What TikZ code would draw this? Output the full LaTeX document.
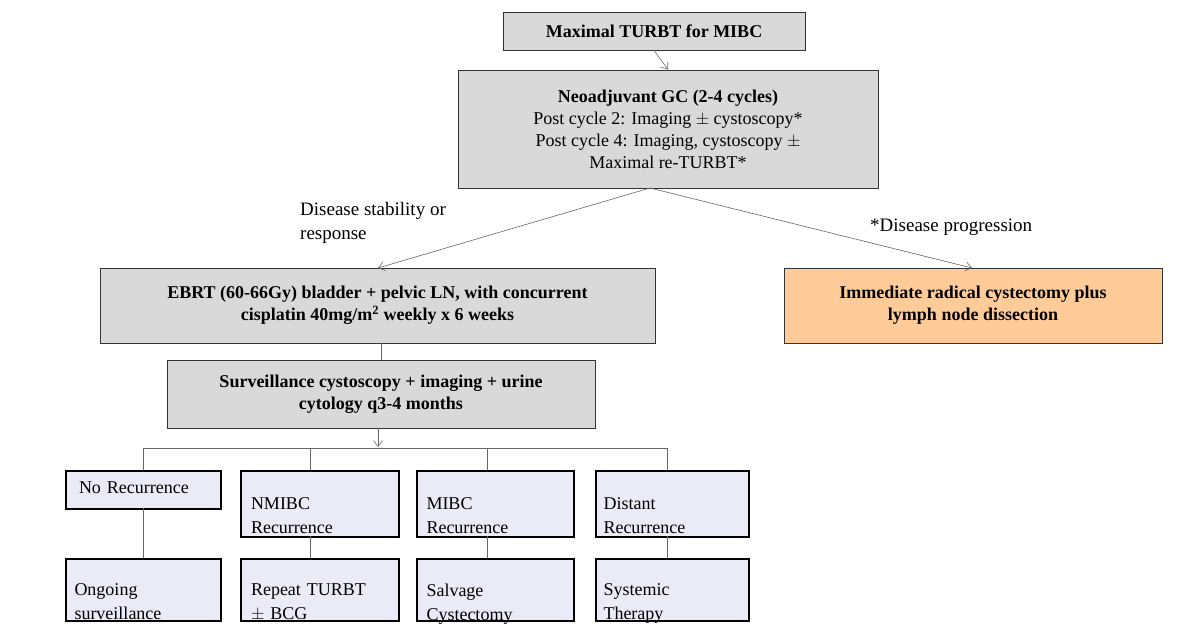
\documentclass[tikz,border=0pt]{standalone}
\usepackage{fontspec}
\setmainfont{Liberation Serif}
\begin{document}
\begin{tikzpicture}[x=1pt,y=-1pt,
 gbox/.style={draw=black!80,fill=black!15,line width=0.8pt,align=center,inner sep=0pt,font=\fontsize{18}{22}\selectfont},
 bbox/.style={draw=black,fill=cyan!30!blue!8,line width=2pt,align=left,inner sep=0pt,anchor=north west,text width=#1,font=\fontsize{18}{24}\selectfont},
 ln/.style={draw=black!60,line width=0.6pt},
 ar/.style={ln,-{Straight Barb[length=6pt,width=9pt]}}]
\usetikzlibrary{arrows.meta}
\useasboundingbox (0,0) rectangle (1200,633);
\node[gbox,minimum width=302,minimum height=38] (top) at (654,31) {\textbf{Maximal TURBT for MIBC}};
\node[gbox,minimum width=420,minimum height=118] (neo) at (668,129) {\textbf{Neoadjuvant GC (2-4 cycles)}\\Post cycle 2: Imaging $\pm$ cystoscopy*\\Post cycle 4: Imaging, cystoscopy $\pm$\\Maximal re-TURBT*};
\node[gbox,minimum width=555,minimum height=75] (ebrt) at (377.5,305.5) {\textbf{EBRT (60-66Gy) bladder + pelvic LN, with concurrent}\\\textbf{cisplatin 40mg/m\textsuperscript{2} weekly x 6 weeks}};
\node[gbox,fill=orange!40!white,fill opacity=1,minimum width=378,minimum height=75] (imm) at (973,305.5) {\textbf{Immediate radical cystectomy plus}\\\textbf{lymph node dissection}};
\node[gbox,minimum width=428,minimum height=68] (surv) at (381,394) {\textbf{Surveillance cystoscopy + imaging + urine}\\\textbf{cytology q3-4 months}};
\draw[ar] (top.south) -- (neo.north);
\draw[ar] (650,188) -- (378,268);
\draw[ar] (650,188) -- (972,268);
\node[align=left,anchor=north west,font=\fontsize{19}{24}\selectfont,inner sep=0pt] (l1) at (300,202) {Disease stability or\\response};
\node[anchor=north west,font=\fontsize{19}{24}\selectfont,inner sep=0pt] (l2) at (870,219) {*Disease progression};
\draw[ln] (ebrt.south -| surv.north) -- (surv.north);
\coordinate (sb) at (378,447);
\draw[ar] (378,428) -- (sb);
\draw[ln] (143,448) -- (667,448);
\begin{scope}[bbox/.append style={text depth=0pt}]
\node[bbox=145pt,minimum width=155,minimum height=38,text depth=4pt] (a1) at (65,470) {\hspace*{8pt}No Recurrence};
\node[bbox=150pt,minimum width=158,minimum height=66] (b1) at (240,470) {\hspace*{0pt}~NMIBC\\~Recurrence};
\node[bbox=150pt,minimum width=157,minimum height=66] (c1) at (416,470) {~MIBC\\~Recurrence};
\node[bbox=150pt,minimum width=153,minimum height=66] (d1) at (595,470) {~Distant\\~Recurrence};
\node[bbox=150pt,minimum width=155,minimum height=62] (a2) at (65,558) {~Ongoing\\~surveillance};
\node[bbox=150pt,minimum width=158,minimum height=62] (b2) at (240,558) {~Repeat TURBT\\~$\pm$ BCG};
\node[bbox=150pt,minimum width=157,minimum height=62] (c2) at (416,558) {~Salvage\\~Cystectomy};
\node[bbox=150pt,minimum width=153,minimum height=62] (d2) at (595,558) {~Systemic\\~Therapy};
\end{scope}
\foreach \x/\n in {143/a1,310/b1,487/c1,667/d1}{\draw[ln] (\x,448) -- (\x,470);}
\draw[ln] (143,508) -- (143,558);
\draw[ln] (310,536) -- (310,558);
\draw[ln] (487,536) -- (487,558);
\draw[ln] (667,536) -- (667,558);
\end{tikzpicture}
\end{document}
